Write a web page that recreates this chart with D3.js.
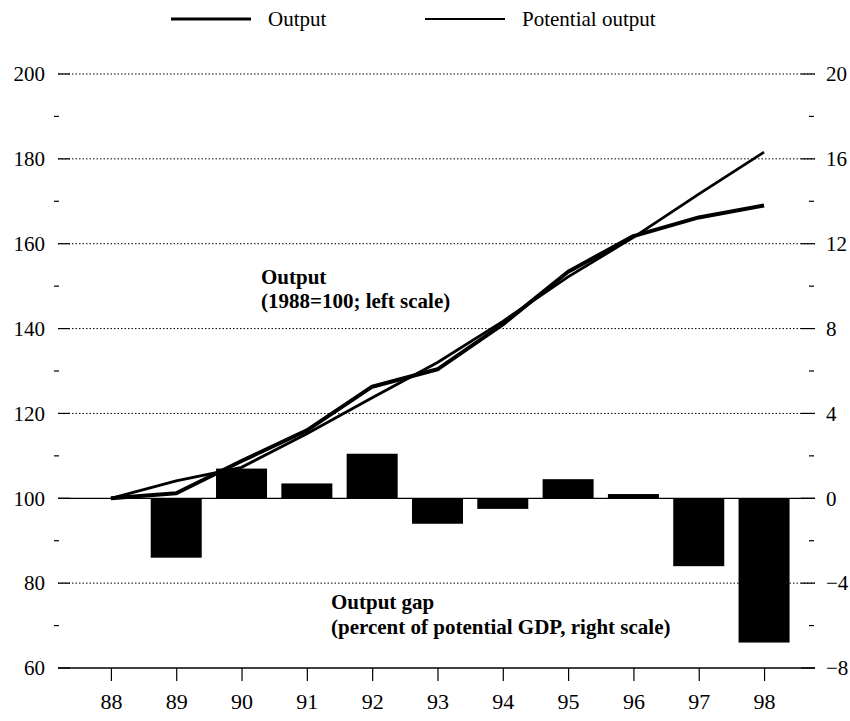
<!DOCTYPE html>
<html>
<head>
<meta charset="utf-8">
<script src="https://cdn.jsdelivr.net/npm/d3@7"></script>
<style>
    body { margin: 0; background: #fff; }
    #chart { width: 850px; height: 721px; }
    svg text { font-family: "Times New Roman", "Liberation Serif", "DejaVu Serif", serif !important; fill: #000; }
</style>
</head>
<body>
<div id="chart"></div>
<script>
const years = [88, 89, 90, 91, 92, 93, 94, 95, 96, 97, 98];
const output = [100, 101.2, 108.8, 116.0, 126.3, 130.4, 141.0, 153.4, 161.8, 166.2, 169.0];
const potentialOutput = [100, 104.1, 107.3, 115.2, 123.7, 132.0, 141.7, 152.2, 161.5, 171.7, 181.6];
const outputGap = [0, -2.8, 1.4, 0.7, 2.1, -1.2, -0.5, 0.9, 0.2, -3.2, -6.8];
const leftTicks = [60, 80, 100, 120, 140, 160, 180, 200];
const leftMinor = [70, 90, 110, 130, 150, 170, 190];
const rightTicks = [-8, -4, 0, 4, 8, 12, 16, 20];

class OutputGapChart {

    constructor(opts) {
        this.element = opts.element;
        this.draw();
    }

    draw() {
        this.width = 850;
        this.height = 721;
        this.margin = { top: 74, right: 35, bottom: 53, left: 58 };

        const svg = d3.select(this.element).append('svg')
            .attr('width', this.width)
            .attr('height', this.height);
        this.svg = svg;

        this.createScales();
        this.addGrid();
        this.addBars();
        this.addLines();
        this.addAxes();
        this.addLabels();
        this.addLegend();
    }

    createScales() {
        const m = this.margin;
        this.x0 = m.left;
        this.x1 = this.width - m.right;
        this.yTop = m.top;
        this.yBot = this.height - m.bottom;

        this.xScale = d3.scaleLinear()
            .domain([87.19, 98.78])
            .range([this.x0, this.x1]);

        this.yLeft = d3.scaleLinear()
            .domain([60, 200])
            .range([this.yBot, this.yTop]);

        this.yRight = d3.scaleLinear()
            .domain([-8, 20])
            .range([this.yBot, this.yTop]);
    }

    addGrid() {
        const grid = this.svg.append('g');
        grid.selectAll('line')
            .data(leftTicks.filter(d => d !== 60 && d !== 100))
            .enter()
            .append('line')
                .attr('x1', this.x0)
                .attr('x2', this.x1)
                .attr('y1', d => this.yLeft(d))
                .attr('y2', d => this.yLeft(d))
                .attr('stroke', '#000')
                .attr('stroke-width', 1)
                .attr('stroke-dasharray', '1.5,2');

        // zero line of the gap bars
        this.svg.append('line')
            .attr('x1', this.x0)
            .attr('x2', this.x1)
            .attr('y1', this.yRight(0))
            .attr('y2', this.yRight(0))
            .attr('stroke', '#000')
            .attr('stroke-width', 1.2);
    }

    addBars() {
        const bw = 51;
        const data = years.map((y, i) => ({ year: y, gap: outputGap[i] }))
            .filter(d => d.gap !== 0);
        this.svg.append('g').selectAll('rect')
            .data(data)
            .enter()
            .append('rect')
                .attr('x', d => this.xScale(d.year) - bw / 2)
                .attr('width', bw)
                .attr('y', d => this.yRight(Math.max(0, d.gap)))
                .attr('height', d => Math.abs(this.yRight(d.gap) - this.yRight(0)))
                .attr('fill', '#000');
    }

    addLines() {
        const line = d3.line()
            .x(d => this.xScale(d[0]))
            .y(d => this.yLeft(d[1]));

        this.svg.append('path')
            .attr('d', line(years.map((y, i) => [y, potentialOutput[i]])))
            .attr('fill', 'none')
            .attr('stroke', '#000')
            .attr('stroke-width', 2.8);

        this.svg.append('path')
            .attr('d', line(years.map((y, i) => [y, output[i]])))
            .attr('fill', 'none')
            .attr('stroke', '#000')
            .attr('stroke-width', 4)
            .attr('stroke-linejoin', 'round');
    }

    addAxes() {
        const fs = '21px';

        const left = this.svg.append('g')
            .attr('transform', `translate(${this.x0},0)`)
            .call(d3.axisLeft(this.yLeft).tickValues(leftTicks).tickSize(0).tickPadding(13))
        left.select('.domain').remove();
        left.selectAll('text').style('font-size', fs);

        const right = this.svg.append('g')
            .attr('transform', `translate(${this.x1},0)`)
            .call(d3.axisRight(this.yRight).tickValues(rightTicks).tickSize(0).tickPadding(11))
        right.select('.domain').remove();
        right.selectAll('text').style('font-size', fs);

        // major tick stubs (solid) at each grid line
        this.svg.append('g').selectAll('line')
            .data(leftTicks)
            .enter()
            .append('line')
                .attr('x1', this.x0).attr('x2', this.x0 + 12)
                .attr('y1', d => this.yLeft(d)).attr('y2', d => this.yLeft(d))
                .attr('stroke', '#000').attr('stroke-width', 1.2);
        this.svg.append('g').selectAll('line')
            .data(leftTicks)
            .enter()
            .append('line')
                .attr('x1', this.x1 - 14).attr('x2', this.x1)
                .attr('y1', d => this.yLeft(d)).attr('y2', d => this.yLeft(d))
                .attr('stroke', '#000').attr('stroke-width', 1.2);

        // minor ticks
        this.svg.append('g').selectAll('line')
            .data(leftMinor)
            .enter()
            .append('line')
                .attr('x1', this.x0 - 4).attr('x2', this.x0 + 1)
                .attr('y1', d => this.yLeft(d)).attr('y2', d => this.yLeft(d))
                .attr('stroke', '#000').attr('stroke-width', 1.2);
        this.svg.append('g').selectAll('line')
            .data(leftMinor)
            .enter()
            .append('line')
                .attr('x1', this.x1 - 6).attr('x2', this.x1 - 1)
                .attr('y1', d => this.yLeft(d)).attr('y2', d => this.yLeft(d))
                .attr('stroke', '#000').attr('stroke-width', 1.2);

        const bottom = this.svg.append('g')
            .attr('transform', `translate(0,${this.yBot})`)
            .call(d3.axisBottom(this.xScale).tickValues(years).tickSize(13).tickPadding(12).tickFormat(d => d));
        bottom.select('.domain')
            .attr('d', `M${this.x0},0H${this.x1}`)
            .attr('stroke-width', 1.5);
        bottom.selectAll('line').attr('stroke-width', 1.2);
        bottom.selectAll('text').style('font-size', '22px');
    }

    addLabels() {
        const g = this.svg.append('g')
            .style('font-size', '21px')
            .style('font-weight', 'bold');
        g.append('text').attr('x', 261).attr('y', 284).text('Output');
        g.append('text').attr('x', 261).attr('y', 308).text('(1988=100; left scale)');
        g.append('text').attr('x', 331).attr('y', 609).text('Output gap');
        g.append('text').attr('x', 331).attr('y', 634).text('(percent of potential GDP, right scale)');
    }

    addLegend() {
        const items = [
            { label: 'Output', x: 171, w: 3.2 },
            { label: 'Potential output', x: 425, w: 2 }
        ];
        const g = this.svg.append('g');
        items.forEach(d => {
            g.append('line')
                .attr('x1', d.x).attr('x2', d.x + 80)
                .attr('y1', 19).attr('y2', 19)
                .attr('stroke', '#000')
                .attr('stroke-width', d.w);
            g.append('text')
                .attr('x', d.x + 97)
                .attr('y', 26)
                .style('font-size', '21px')
                .text(d.label);
        });
    }
}

new OutputGapChart({ element: document.getElementById('chart') });
</script>
</body>
</html>
